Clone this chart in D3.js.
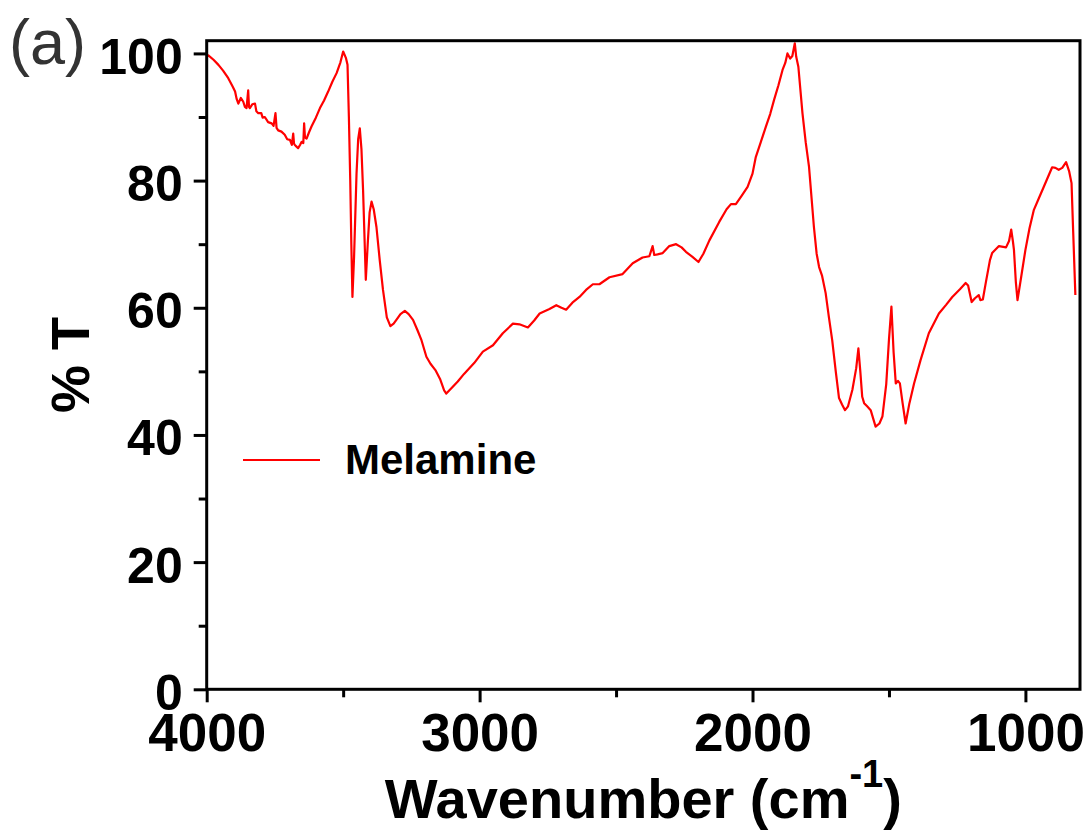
<!DOCTYPE html>
<html>
<head>
<meta charset="utf-8">
<script src="https://cdn.jsdelivr.net/npm/d3@7"></script>
<style>
  html, body { margin: 0; padding: 0; background: #ffffff; }
  svg { display: block; }
  text { font-family: "Liberation Sans", Arial, sans-serif; }
</style>
</head>
<body>
<svg id="chart" width="1091" height="834"></svg>
<script>
// ---- data ----
const wavenumber = [
  4000, 3994, 3975, 3957, 3940, 3921, 3905, 3896, 3890, 3884, 3875, 3866, 3860, 3854, 3848, 3845, 3842, 3833, 3823, 3818,
  3811, 3800, 3795, 3787, 3775, 3762, 3755, 3748, 3744, 3738, 3726, 3714, 3705, 3695, 3688, 3683, 3680, 3677, 3670, 3665,
  3658, 3652, 3646, 3643, 3640, 3634, 3625, 3616, 3600, 3585, 3570, 3555, 3540, 3524, 3510, 3500, 3490, 3484, 3479, 3474,
  3470, 3466, 3460, 3451, 3445, 3439,
  3433, 3427, 3421, 3417, 3410, 3403, 3396, 3388, 3378, 3366, 3354, 3340, 3327, 3315, 3305, 3290,
  3274, 3260, 3244, 3228, 3213, 3195, 3180, 3162, 3145, 3130, 3122, 3100, 3080, 3057, 3020, 2988,
  2951, 2915, 2878, 2854, 2823, 2800, 2780, 2744, 2719, 2700, 2683, 2660, 2634, 2610, 2585, 2561,
  2524, 2476, 2439, 2403, 2378, 2366, 2360, 2348, 2329, 2305, 2280, 2260, 2244, 2220, 2198, 2180,
  2158, 2122, 2095, 2079, 2061, 2040, 2018, 2000, 1988, 1970, 1951, 1935, 1921, 1905, 1890, 1880,
  1872, 1862, 1854, 1845, 1840, 1832, 1817, 1805, 1793, 1775, 1765, 1756, 1745, 1732, 1720, 1708,
  1695, 1683, 1672, 1661, 1650, 1634, 1620, 1612, 1605, 1598, 1591, 1580, 1567, 1549, 1535, 1524,
  1510, 1500, 1491, 1483, 1475, 1467, 1460, 1450, 1439, 1425, 1408, 1384, 1354, 1317, 1290, 1268,
  1240, 1219, 1210, 1197, 1185, 1171, 1165, 1156, 1145, 1130, 1122, 1097, 1071, 1060, 1052, 1046,
  1042, 1035, 1029, 1015, 1000, 985, 969, 950, 933, 915, 902, 890, 878, 865, 851, 840,
  831, 825, 817
];
const transmittance = [
  99.5, 99.7, 99.0, 98.2, 97.3, 96.1, 94.8, 94.0, 92.8, 92.1, 93.0, 92.4, 91.6, 91.4, 94.2, 91.6, 91.4, 92.0, 92.1, 90.9,
  90.6, 90.6, 89.9, 90.0, 89.2, 89.0, 88.6, 90.6, 88.3, 87.9, 87.7, 87.2, 86.5, 86.4, 85.6, 87.4, 85.8, 85.6, 85.3, 85.1,
  85.6, 86.1, 85.9, 89.0, 86.8, 86.6, 87.6, 88.5, 89.9, 91.4, 92.6, 94.0, 95.5, 96.9, 98.6, 100.3, 99.3, 98.2, 90.0, 80.0,
  70.0, 61.7, 68.0, 81.1, 86.5, 88.2,
  85.0, 78.5, 70.0, 64.4, 70.0, 75.0, 76.7, 75.5, 72.7, 67.5, 62.8, 58.5, 57.1, 57.5, 58.1, 59.0,
  59.5, 59.0, 58.1, 56.5, 54.9, 52.3, 51.2, 50.2, 48.8, 47.0, 46.5, 47.5, 48.4, 49.6, 51.3, 53.1,
  54.1, 56.0, 57.5, 57.4, 56.9, 58.0, 59.1, 59.8, 60.4, 60.0, 59.7, 60.8, 61.7, 62.8, 63.7, 63.7,
  64.8, 65.3, 67.0, 67.9, 68.1, 69.7, 68.3, 68.4, 68.6, 69.7, 70.0, 69.5, 68.8, 68.0, 67.2, 68.5,
  70.6, 73.5, 75.5, 76.3, 76.3, 77.6, 79.0, 81.1, 83.7, 86.0, 88.5, 90.5, 92.7, 95.0, 97.4, 98.5,
  100.0, 99.2, 99.6, 101.6, 99.5, 97.9, 90.6, 86.0, 82.2, 72.7, 68.5, 66.4, 65.0, 62.3, 58.5, 54.9,
  50.0, 45.8, 44.8, 43.9, 44.5, 47.1, 50.5, 53.6, 50.0, 46.0, 45.0, 44.5, 43.9, 41.3, 41.8, 42.9,
  48.0, 55.0, 60.2, 53.0, 48.1, 48.5, 48.1, 45.0, 41.8, 45.0, 48.1, 51.8, 56.0, 59.1, 60.5, 61.7,
  62.9, 63.9, 63.5, 60.9, 61.5, 62.0, 61.2, 61.3, 64.0, 67.5, 68.6, 69.7, 69.5, 70.5, 72.3, 70.5,
  69.1, 64.0, 61.2, 65.0, 69.1, 72.5, 75.4, 77.3, 79.0, 80.8, 82.1, 82.0, 81.7, 82.0, 82.9, 81.5,
  79.6, 72.0, 62.0
];
const xMajorTicks = [4000, 3000, 2000, 1000];
const xMinorTicks = [3500, 2500, 1500];
const yMajorTicks = [0, 20, 40, 60, 80, 100];
const yMinorTicks = [10, 30, 50, 70, 90];
const seriesName = "Melamine";
const panelLabel = "(a)";
const xTitle = "Wavenumber (cm";
const xTitleSup = "-1";
const yTitle = "% T";

// ---- layout ----
const svg = d3.select("#chart");
const L = 206.7, R = 1080, T = 40.7, B = 689.3;
const x = d3.scaleLinear().domain([4000, 800]).range([L, R]);
const y = d3.scaleLinear().domain([0, 102]).range([B, T]);
const data = wavenumber.map((w, i) => ({ w, t: transmittance[i] }));

svg.append("rect").attr("width", 1091).attr("height", 834).attr("fill", "#ffffff");

// spectrum line
svg.append("path")
  .datum(data)
  .attr("fill", "none")
  .attr("stroke", "#ff0000")
  .attr("stroke-width", 2.2)
  .attr("stroke-linejoin", "round")
  .attr("d", d3.line().x(d => x(d.w)).y(d => y(d.t)));

// frame
svg.append("rect")
  .attr("x", L).attr("y", T).attr("width", R - L).attr("height", B - T)
  .attr("fill", "none").attr("stroke", "#000").attr("stroke-width", 3);

// x axis
const gx = svg.append("g").attr("transform", `translate(0,${B})`)
  .call(d3.axisBottom(x).tickValues(xMajorTicks).tickSize(13).tickPadding(11).tickFormat(d3.format("d")));
const gx2 = svg.append("g").attr("transform", `translate(0,${B})`)
  .call(d3.axisBottom(x).tickValues(xMinorTicks).tickSize(8).tickFormat(""));
// y axis
const gy = svg.append("g").attr("transform", `translate(${L},0)`)
  .call(d3.axisLeft(y).tickValues(yMajorTicks).tickSize(13).tickPadding(11).tickFormat(d3.format("d")));
const gy2 = svg.append("g").attr("transform", `translate(${L},0)`)
  .call(d3.axisLeft(y).tickValues(yMinorTicks).tickSize(8).tickFormat(""));

[gx, gx2, gy, gy2].forEach(g => {
  g.select(".domain").remove();
  g.selectAll(".tick line").attr("stroke", "#000").attr("stroke-width", 3);
});
gx.selectAll(".tick text")
  .attr("font-family", "'Liberation Sans', Arial, sans-serif")
  .attr("font-size", 53).attr("font-weight", "bold").attr("fill", "#000");
gy.selectAll(".tick text")
  .attr("font-family", "'Liberation Sans', Arial, sans-serif")
  .attr("font-size", 50).attr("font-weight", "bold").attr("fill", "#000")
  .attr("dy", "0.40em");

// titles
const xt = svg.append("text")
  .attr("x", (L + R) / 2).attr("y", 818)
  .attr("text-anchor", "middle")
  .attr("font-size", 56).attr("font-weight", "bold").attr("fill", "#000");
xt.append("tspan").text(xTitle);
xt.append("tspan").attr("font-size", 38).attr("dy", -31).text(xTitleSup);
xt.append("tspan").attr("font-size", 56).attr("dy", 31).text(")");

svg.append("text")
  .attr("transform", `translate(89,${(T + B) / 2}) rotate(-90)`)
  .attr("text-anchor", "middle")
  .attr("font-size", 54).attr("font-weight", "bold").attr("fill", "#000")
  .text(yTitle);

svg.append("text")
  .attr("x", 9).attr("y", 64)
  .attr("font-size", 63).attr("fill", "#333")
  .text(panelLabel);

// legend
svg.append("line")
  .attr("x1", 243).attr("x2", 320).attr("y1", 460).attr("y2", 460)
  .attr("stroke", "#ff0000").attr("stroke-width", 2.2);
svg.append("text")
  .attr("x", 345).attr("y", 474)
  .attr("font-size", 42).attr("font-weight", "bold").attr("fill", "#000")
  .text(seriesName);
</script>
</body>
</html>
